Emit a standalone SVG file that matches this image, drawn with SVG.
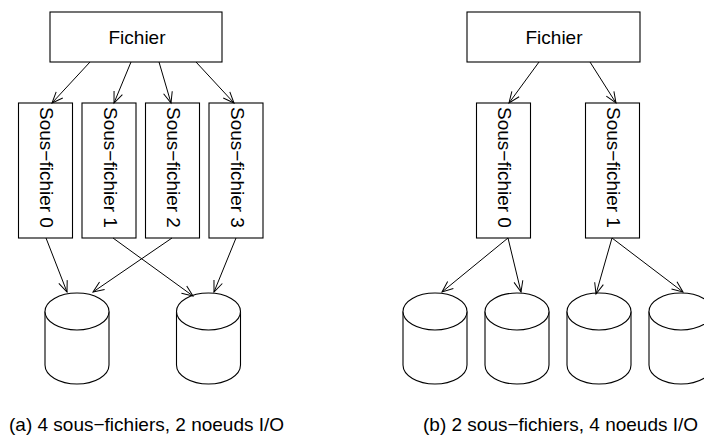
<svg xmlns="http://www.w3.org/2000/svg" width="704" height="439" viewBox="0 0 704 439">
  <style>
    .box { fill: #ffffff; stroke: #000000; stroke-width: 1.1; }
    .cyl { fill: #ffffff; stroke: #000000; stroke-width: 1.1; }
    .edge { fill: none; stroke: #000000; stroke-width: 1; marker-end: url(#vee); }
    .lbl { font-family: "Liberation Sans", Arial, Helvetica, sans-serif; font-size: 19px; fill: #000000; }
  </style>
  <defs>
    <marker id="vee" markerUnits="userSpaceOnUse" markerWidth="14" markerHeight="10" refX="11" refY="4.5" orient="auto" overflow="visible">
      <path d="M0,0 L11,4.5 L0,9" fill="none" stroke="#000000" stroke-width="1"/>
    </marker>
    <g id="disk">
      <path class="cyl" d="M-32,0 L-32,53.5 A32,19 0 0 0 32,53.5 L32,0"/>
      <ellipse class="cyl" cx="0" cy="0" rx="32" ry="18.5"/>
    </g>
  </defs>
  <rect width="704" height="439" fill="#ffffff"/>

  <!-- (a) one file split into four sub-files over two I/O nodes -->
  <g id="a-fichier">
    <rect class="box" x="50" y="12" width="172" height="50"/>
    <text class="lbl" x="137" y="44" text-anchor="middle">Fichier</text>
  </g>
  <g id="a-sf0">
    <rect class="box" x="18.5" y="103" width="54" height="135"/>
    <text class="lbl" transform="translate(40,107) rotate(90)">Sous−fichier 0</text>
  </g>
  <g id="a-sf1">
    <rect class="box" x="82" y="103" width="54" height="135"/>
    <text class="lbl" transform="translate(103.5,107) rotate(90)">Sous−fichier 1</text>
  </g>
  <g id="a-sf2">
    <rect class="box" x="145.5" y="103" width="54" height="135"/>
    <text class="lbl" transform="translate(167,107) rotate(90)">Sous−fichier 2</text>
  </g>
  <g id="a-sf3">
    <rect class="box" x="209" y="103" width="54" height="135"/>
    <text class="lbl" transform="translate(230.5,107) rotate(90)">Sous−fichier 3</text>
  </g>
  <g id="a-io0"><use href="#disk" x="77" y="311.5"/></g>
  <g id="a-io1"><use href="#disk" x="208.5" y="311.5"/></g>
  <text id="a-caption" class="lbl" x="9" y="431">(a) 4 sous−fichiers, 2 noeuds I/O</text>

  <!-- (b) one file split into two sub-files over four I/O nodes -->
  <g id="b-fichier">
    <rect class="box" x="467" y="12" width="173" height="50"/>
    <text class="lbl" x="554" y="44" text-anchor="middle">Fichier</text>
  </g>
  <g id="b-sf0">
    <rect class="box" x="476.5" y="103" width="54" height="135"/>
    <text class="lbl" transform="translate(498,107) rotate(90)">Sous−fichier 0</text>
  </g>
  <g id="b-sf1">
    <rect class="box" x="585.5" y="103" width="54" height="135"/>
    <text class="lbl" transform="translate(607,107) rotate(90)">Sous−fichier 1</text>
  </g>
  <g id="b-io0"><use href="#disk" x="435" y="311.5"/></g>
  <g id="b-io1"><use href="#disk" x="517" y="311.5"/></g>
  <g id="b-io2"><use href="#disk" x="599" y="311.5"/></g>
  <g id="b-io3"><use href="#disk" x="681" y="311.5"/></g>
  <text id="b-caption" class="lbl" x="423" y="431">(b) 2 sous−fichiers, 4 noeuds I/O</text>

  <g id="connectors">
    <line class="edge" x1="90" y1="62" x2="52" y2="103"/>
    <line class="edge" x1="131" y1="62" x2="114" y2="103"/>
    <line class="edge" x1="159" y1="62" x2="171" y2="103"/>
    <line class="edge" x1="196" y1="62" x2="234" y2="103"/>
    <line class="edge" x1="46" y1="238" x2="67" y2="292"/>
    <line class="edge" x1="113" y1="238" x2="193" y2="296"/>
    <line class="edge" x1="172" y1="238" x2="93" y2="292"/>
    <line class="edge" x1="236" y1="238" x2="214" y2="292"/>
    <line class="edge" x1="539" y1="62" x2="509" y2="103"/>
    <line class="edge" x1="590" y1="62" x2="616" y2="103"/>
    <line class="edge" x1="508" y1="238" x2="442" y2="292"/>
    <line class="edge" x1="508" y1="238" x2="521" y2="292"/>
    <line class="edge" x1="612" y1="238" x2="596" y2="294"/>
    <line class="edge" x1="612" y1="238" x2="683" y2="292"/>
  </g>
</svg>
